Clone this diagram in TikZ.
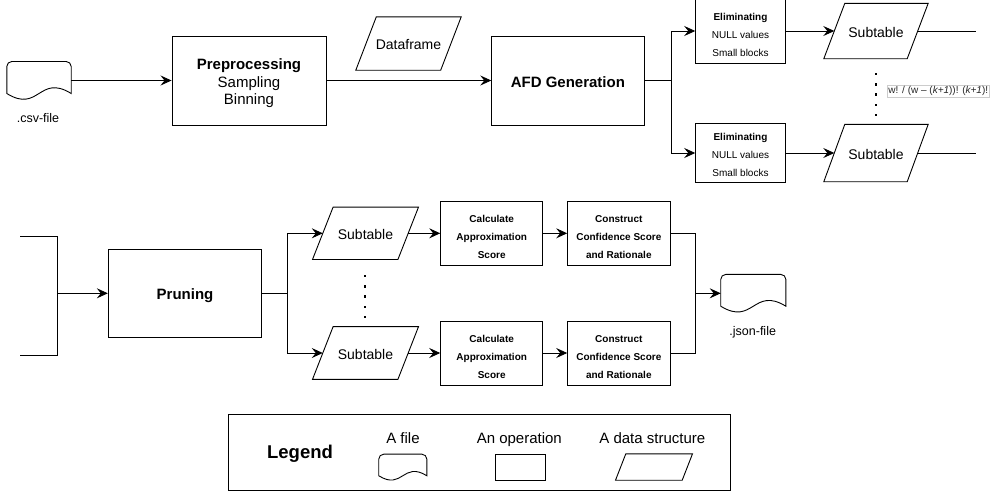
\documentclass[tikz,border=0pt]{standalone}
\usepackage{fontspec}
\setmainfont{Liberation Sans}
\usetikzlibrary{arrows.meta,calc}
\tikzset{
  ln/.style={line width=0.9pt},
  box/.style={draw, ln, inner sep=0pt, align=center},
  shp/.style={draw=none, inner sep=0pt, align=center},
  arr/.style={ln, -{Stealth[length=11pt,width=10pt,inset=4pt]}},
  lineb/.style={text height=13.2pt, text depth=0pt},
  linem/.style={text height=12.2pt, text depth=0pt},
  captxt/.style={text height=#1, text depth=0pt, inner sep=0pt},
  fbig/.style={font=\fontsize{15}{17.5}\selectfont},
  fbigb/.style={font=\fontsize{15}{17.5}\selectfont\bfseries},
  fsmall/.style={font=\fontsize{10}{18}\selectfont},
  fsmallb/.style={font=\fontsize{10}{18}\selectfont\bfseries},
  fmid/.style={font=\fontsize{14}{16}\selectfont},
  flab/.style={font=\fontsize{12.5}{15}\selectfont},
}
\newcommand\dn[1]{\rule{0pt}{#1}}
\newcommand\docshape[3]{\draw[ln] ([yshift=#2]#1.south west) -- ([yshift=-5pt]#1.north west) arc[start angle=180,end angle=90,radius=5pt] -- ([xshift=-5pt]#1.north east) arc[start angle=90,end angle=0,radius=5pt] -- ([yshift=#2]#1.south east) .. controls ([yshift=#2+#3]#1.south) and ([yshift=#2-#3]#1.south) .. ([yshift=#2]#1.south west) -- cycle;}
\newcommand\paragram[2]{\draw[ln] ([xshift=#2]#1.north west) -- (#1.north east) -- ([xshift=-#2]#1.south east) -- (#1.south west) -- cycle;}
\begin{document}
\begin{tikzpicture}[x=1pt,y=-1pt]
\useasboundingbox (0,0) rectangle (992,496);
\clip (0,0) rectangle (992,496);
% ---------- top row ----------
\node[shp, minimum width=64pt, minimum height=37.6pt] (csv) at (39,80.5) {};
\docshape{csv}{6pt}{20pt}
\node[flab, captxt=8.95pt] (csvlab) at (38,118) {.csv-file};
\node[box, fbig, minimum width=154pt, minimum height=89pt] (pre) at (249,80.5) {\dn{17pt}\textbf{Preprocessing}\\Sampling\\Binning};
\node[shp, fmid, linem, minimum width=105pt, minimum height=53pt] (df) at (408.5,43.5) {Dataframe};
\paragram{df}{20.5pt}
\node[box, fbigb, lineb, minimum width=152.3pt, minimum height=89pt] (afd) at (567.9,80.5) {AFD Generation};
\coordinate (br1) at (671.7,80.5);
\node[box, minimum width=89.6pt, minimum height=65pt,
  label={[fsmall, align=center, yshift=-4pt]center:{\textbf{Eliminating}\\NULL values\\Small blocks}}] (elim1) at (740.5,31) {};
\node[box, fsmall, minimum width=89.6pt, minimum height=59.4pt] (elim2) at (740.5,153) {\dn{11.3pt}\textbf{Eliminating}\\NULL values\\Small blocks};
\node[shp, fmid, linem, minimum width=104pt, minimum height=55pt] (sub1) at (876,31) {Subtable};
\paragram{sub1}{21pt}
\node[shp, fmid, linem, minimum width=104pt, minimum height=57pt] (sub2) at (876,153) {Subtable};
\paragram{sub2}{21pt}
\coordinate (out1) at (976,31);
\coordinate (out2) at (976,153);
\foreach \y in {74,84.3,94.6,104.9,115.2} \fill (874.8,\y-1.2) rectangle ++(2.4,2.4);
\node[draw=black!20, line width=0.8pt, fill=white, text=black!85, inner sep=0pt,
  font=\fontsize{10}{12}\selectfont, minimum width=102pt, minimum height=12.3pt] (form) at (938.3,91.2)
  {w! / (w – (\textit{k+1}))! (\textit{k+1})!};
% ---------- bottom row ----------
\coordinate (bt1) at (20,236.7);
\coordinate (bt2) at (57.7,236.7);
\coordinate (bb2) at (57.7,355.7);
\coordinate (bb1) at (20,355.7);
\coordinate (bm) at (57.7,293.3);
\node[box, fbigb, lineb, minimum width=153.4pt, minimum height=88.7pt] (prune) at (185,293.3) {Pruning};
\coordinate (br2) at (287.3,293.3);
\node[shp, fmid, linem, minimum width=105.6pt, minimum height=52pt] (sub3) at (365.5,233.3) {Subtable};
\paragram{sub3}{20.6pt}
\node[shp, fmid, linem, minimum width=105.6pt, minimum height=52.3pt] (sub4) at (365.5,353) {Subtable};
\paragram{sub4}{20.6pt}
\foreach \y in {276,286.3,296.6,306.9,317.2} \fill (363.8,\y-1.2) rectangle ++(2.4,2.4);
\node[box, fsmallb, minimum width=102pt, minimum height=63.3pt] (calc1) at (491.7,233.3) {\dn{14.3pt}Calculate\\Approximation\\Score};
\node[box, fsmallb, minimum width=102pt, minimum height=64pt] (calc2) at (491.7,353) {\dn{14.3pt}Calculate\\Approximation\\Score};
\node[box, fsmallb, minimum width=102.3pt, minimum height=63.3pt] (cons1) at (618.8,233.3) {\dn{14.3pt}Construct\\Confidence Score\\and Rationale};
\node[box, fsmallb, minimum width=102.3pt, minimum height=64pt] (cons2) at (618.8,353) {\dn{14.3pt}Construct\\Confidence Score\\and Rationale};
\coordinate (mg) at (695.7,293.3);
\node[shp, minimum width=64.7pt, minimum height=37.4pt] (json) at (753.3,293.3) {};
\docshape{json}{6pt}{20pt}
\node[flab, captxt=8.95pt] (jsonlab) at (752.7,330.7) {.json-file};
% ---------- legend ----------
\node[box, minimum width=501.7pt, minimum height=76.4pt] (leg) at (479.2,452.5) {};
\node[captxt=13.25pt, font=\fontsize{18.5}{20}\selectfont\bfseries] (legt) at (300,451.7) {Legend};
\node[fbig, captxt=10.74pt] (lfile) at (403,438.3) {A file};
\node[shp, minimum width=47.7pt, minimum height=25.7pt] (lfs) at (402.8,467.2) {};
\docshape{lfs}{4.5pt}{15pt}
\node[fbig, captxt=10.74pt] (lop) at (519.3,438.3) {An operation};
\node[box, minimum width=50.4pt, minimum height=25.3pt] (lops) at (520.5,467.3) {};
\node[fbig, captxt=10.74pt] (lds) at (652.3,438.3) {A data structure};
\node[shp, minimum width=76.6pt, minimum height=26pt] (ldss) at (654,467) {};
\paragram{ldss}{10.3pt}
% ---------- connectors ----------
\draw[arr] (csv.east) -- (pre.west);
\draw[arr] (pre.east) -- (afd.west);
\draw[ln] (afd.east) -- (br1);
\draw[arr] (br1) |- (elim1.west);
\draw[arr] (br1) |- (elim2.west);
\draw[arr] (elim1.east) -- ([xshift=10.5pt]sub1.west);
\draw[arr] (elim2.east) -- ([xshift=10.5pt]sub2.west);
\draw[ln] ([xshift=-10.5pt]sub1.east) -- (out1);
\draw[ln] ([xshift=-10.5pt]sub2.east) -- (out2);
\draw[ln] (bt1) -- (bt2) -- (bb2) -- (bb1);
\draw[arr] (bm) -- (prune.west);
\draw[ln] (prune.east) -- (br2);
\draw[arr] (br2) |- ([xshift=10.3pt]sub3.west);
\draw[arr] (br2) |- ([xshift=10.3pt]sub4.west);
\draw[arr] ([xshift=-10.3pt]sub3.east) -- (calc1.west);
\draw[arr] ([xshift=-10.3pt]sub4.east) -- (calc2.west);
\draw[arr] (calc1.east) -- (cons1.west);
\draw[arr] (calc2.east) -- (cons2.west);
\draw[ln] (cons1.east) -| (mg);
\draw[ln] (cons2.east) -| (mg);
\draw[arr] (mg) -- (json.west);
\end{tikzpicture}
\end{document}
